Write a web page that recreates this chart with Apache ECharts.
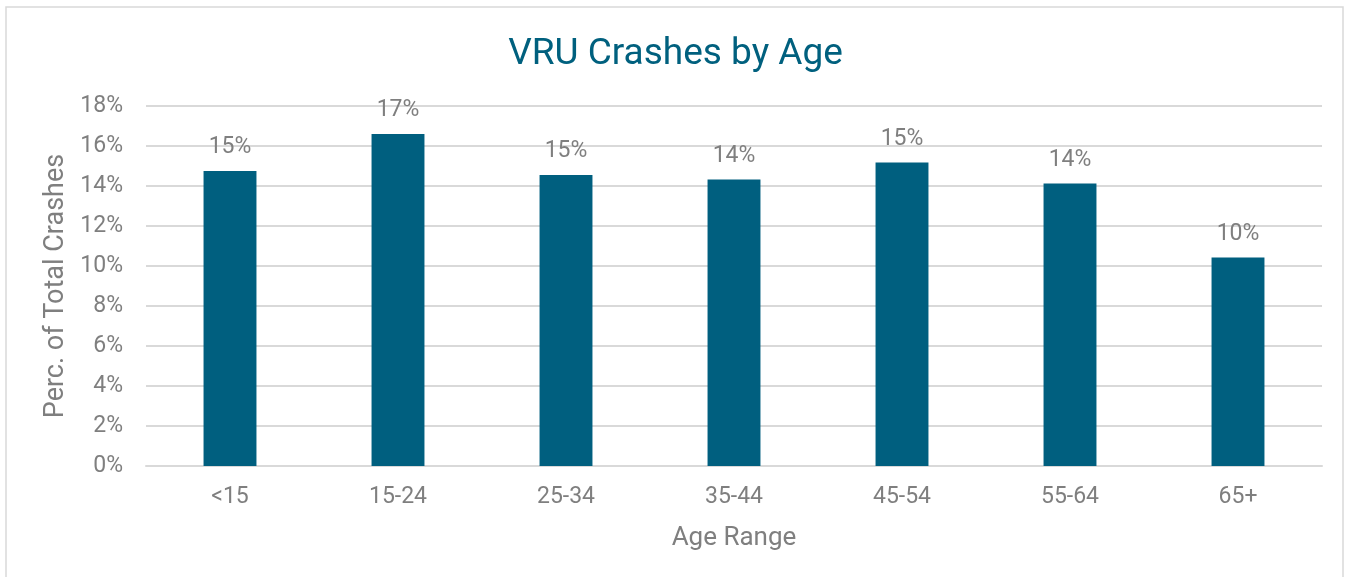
<!DOCTYPE html>
<html>
<head>
<meta charset="utf-8">
<script src="https://cdn.jsdelivr.net/npm/echarts@6/dist/echarts.min.js"></script>
<style>
  html, body { margin: 0; padding: 0; background: #fff; }
  #chart { width: 1351px; height: 577px; }
</style>
</head>
<body>
<div id="chart"></div>
<script>
// age ranges and share of total VRU crashes (%)
const ageRanges = ['<15', '15-24', '25-34', '35-44', '45-54', '55-64', '65+']
const crashShare = [14.75, 16.6, 14.55, 14.33, 15.17, 14.13, 10.43]
const yTicks = { min: 0, max: 18, interval: 2 }

const grey = '#7f7f7f'
const font = 'Roboto, "Noto Sans", sans-serif'

let myChart = echarts.init(document.getElementById('chart'))
myChart.setOption({
  animation: false,
  title: {
    text: 'VRU Crashes by Age',
    left: 'center',
    top: 31,
    textStyle: { color: '#00607e', fontSize: 37, fontWeight: 'normal', fontFamily: font }
  },
  graphic: [{
    type: 'rect',
    shape: { x: 6, y: 7, width: 1337, height: 580 },
    style: { fill: 'none', stroke: '#d9d9d9', lineWidth: 1.5 },
    silent: true
  }],
  grid: { left: 146, right: 29, top: 106, bottom: 111 },
  xAxis: {
    type: 'category',
    data: ageRanges,
    name: 'Age Range',
    nameLocation: 'middle',
    nameGap: 59,
    nameTextStyle: { color: grey, fontSize: 26, fontFamily: font },
    axisTick: { show: false },
    axisLine: { lineStyle: { color: '#d9d9d9', width: 2 } },
    axisLabel: { color: grey, fontSize: 23, margin: 20, fontFamily: font }
  },
  yAxis: {
    type: 'value',
    min: yTicks.min,
    max: yTicks.max,
    interval: yTicks.interval,
    name: 'Perc. of Total Crashes',
    nameLocation: 'middle',
    nameGap: 72,
    nameTextStyle: { color: grey, fontSize: 27, fontFamily: font },
    axisLine: { show: false },
    axisTick: { show: false },
    splitLine: { lineStyle: { color: '#d9d9d9', width: 2 } },
    axisLabel: { color: grey, fontSize: 23, margin: 23, fontFamily: font, formatter: '{value}%' }
  },
  series: [{
    type: 'bar',
    data: crashShare,
    barWidth: '31.5%',
    itemStyle: { color: '#005f7f' },
    label: {
      show: true,
      position: 'top',
      distance: 12,
      color: grey,
      fontSize: 23,
      fontFamily: font,
      formatter: (p) => Math.round(p.value) + '%'
    }
  }]
})
</script>
</body>
</html>
